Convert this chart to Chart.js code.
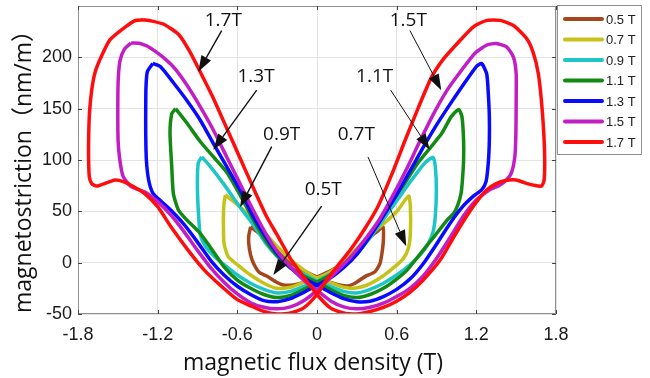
<!DOCTYPE html>
<html lang="en">
<head>
<meta charset="UTF-8">
<title>Magnetostriction butterfly loops</title>
<script src="https://cdn.jsdelivr.net/npm/chart.js"></script>
<style>
  html, body { margin: 0; padding: 0; background: #fff; }
  #wrap { width: 650px; height: 378px; }
</style>
</head>
<body>
<div id="wrap"><canvas id="chart" width="650" height="378"></canvas></div>
<script>
// axis ticks
const xTicks = [-1.8, -1.2, -0.6, 0, 0.6, 1.2, 1.8];
const xTickLabels = ['-1.8', '-1.2', '-0.6', '0', '0.6', '1.2', '1.8'];
const yTicks = [-50, 0, 50, 100, 150, 200];

const seriesNames = ['0.5 T', '0.7 T', '0.9 T', '1.1 T', '1.3 T', '1.5 T', '1.7 T'];

// each loop: B (T) and magnetostriction (nm/m), in drawing order
const b05 = [-0.5, -0.45, -0.4, -0.33, -0.23, -0.13, 0,
  0.12, 0.223, 0.286, 0.361, 0.437, 0.474, 0.49, 0.5, 0.497,
  0.45, 0.4, 0.33, 0.23, 0.13, 0,
  -0.12, -0.18, -0.254, -0.304, -0.379, -0.43, -0.46, -0.49, -0.51, -0.515, -0.5];
const l05 = [35, 30, 25, 15, 3, -6, -14,
  -20, -22.7, -20, -13.6, -8.8, -1, 10, 22, 35,
  30, 25, 15, 3, -6, -14,
  -20, -21.7, -21.7, -19, -13, -10, -5, 3, 14, 25, 35];

const b07 = [-0.69, -0.58, -0.454, -0.33, -0.2, -0.1, 0,
  0.073, 0.173, 0.274, 0.374, 0.474, 0.575, 0.65, 0.688, 0.703, 0.703, 0.69,
  0.61, 0.535, 0.424, 0.324, 0.223, 0.123, 0,
  -0.1, -0.2, -0.3, -0.4, -0.5, -0.58, -0.668, -0.7, -0.705, -0.7, -0.69];
const l07 = [66, 54.5, 38, 20, 3, -7, -15,
  -18, -23, -25, -22, -15, -5, 4, 14, 28, 54.5, 65,
  51.3, 41.5, 30, 17, 4, -7, -15,
  -19, -24, -25, -20, -12, -4, 5.8, 18.8, 44.8, 58, 66];

const b09 = [-0.868, -0.806, -0.705, -0.585, -0.48, -0.38, -0.3, -0.2, -0.1, 0,
  0.1, 0.2, 0.3, 0.4, 0.5, 0.6, 0.7, 0.78, 0.836, 0.874, 0.891, 0.899, 0.891, 0.874,
  0.811, 0.71, 0.61, 0.51, 0.41, 0.31, 0.2, 0.1, 0,
  -0.1, -0.2, -0.3, -0.4, -0.5, -0.6, -0.7, -0.78, -0.84, -0.88, -0.894, -0.901, -0.894, -0.868];
const l09 = [103, 94, 77, 55, 37, 18, 6, -5, -11, -18,
  -23, -28, -29.5, -26, -20, -12, -2, 8, 18, 30, 45, 71, 93.5, 102.6,
  97, 80, 62, 44, 26, 10, -4, -11, -18,
  -23, -28, -29.5, -26, -20, -12, -2, 7, 16, 28, 51, 77, 97, 103];

const b11 = [-1.065, -0.98, -0.88, -0.78, -0.68, -0.58, -0.48, -0.38, -0.3, -0.2, -0.1, 0,
  0.1, 0.2, 0.3, 0.4, 0.5, 0.6, 0.68, 0.78, 0.88, 0.98, 1.03, 1.06, 1.085, 1.095, 1.104, 1.104, 1.092, 1.067,
  1.01, 0.94, 0.86, 0.76, 0.66, 0.56, 0.46, 0.36, 0.3, 0.2, 0.1, 0,
  -0.1, -0.2, -0.3, -0.4, -0.5, -0.6, -0.7, -0.806, -0.88, -0.98, -1.044, -1.082, -1.094, -1.107, -1.094, -1.065];
const l11 = [150, 136, 118, 103, 88, 66, 42, 20, 7, -5, -13, -19,
  -26, -32, -34, -31, -25, -16, -7, 9, 25, 41.5, 48, 56, 67.5, 80, 100, 119, 142, 149.3,
  142, 126, 113, 97, 77, 58, 38, 20, 8, -4, -12, -19,
  -26, -32, -34, -31, -25, -17, -4, 15.6, 28.6, 41.5, 51.3, 67.5, 93.5, 126, 145, 150];

const b13 = [-1.237, -1.18, -1.08, -0.98, -0.88, -0.78, -0.68, -0.58, -0.48, -0.38, -0.3, -0.2, -0.1, 0,
  0.1, 0.2, 0.3, 0.4, 0.5, 0.6, 0.7, 0.8, 0.9, 1.0, 1.1, 1.18, 1.24, 1.273, 1.29, 1.298, 1.298, 1.29, 1.278, 1.24,
  1.2, 1.09, 0.99, 0.89, 0.79, 0.69, 0.59, 0.48, 0.38, 0.3, 0.2, 0.1, 0,
  -0.1, -0.2, -0.3, -0.4, -0.5, -0.6, -0.7, -0.8, -0.9, -1.0, -1.1, -1.17, -1.235, -1.268, -1.285, -1.29, -1.29, -1.288, -1.278, -1.237];
const l13 = [194, 191, 175, 158, 139, 116, 93.5, 70.8, 45, 24, 9, -5, -15, -22,
  -29, -35, -38, -37.5, -33, -26, -16, -1, 18, 38, 55, 65, 71, 79, 97, 119, 142, 165, 184, 194,
  191, 171, 152, 132, 110, 87, 64, 41.5, 22, 8, -5, -15, -22,
  -29, -35, -38, -37, -31, -23, -12, 2, 20, 37, 51, 59.4, 67.5, 80.5, 100, 126, 149, 171, 186, 194];

const b15 = [-1.4, -1.34, -1.28, -1.22, -1.14, -1.07, -0.98, -0.88, -0.78, -0.68, -0.58, -0.48, -0.38, -0.3, -0.2, -0.1, 0,
  0.1, 0.2, 0.3, 0.4, 0.5, 0.6, 0.7, 0.8, 0.9, 1.0, 1.1, 1.2, 1.3, 1.37, 1.43, 1.466, 1.49, 1.498, 1.5, 1.5, 1.48, 1.43, 1.35,
  1.28, 1.19, 1.08, 0.98, 0.87, 0.77, 0.67, 0.57, 0.47, 0.37, 0.25, 0.12, 0,
  -0.1, -0.2, -0.3, -0.4, -0.5, -0.6, -0.7, -0.8, -0.9, -1.0, -1.1, -1.2, -1.3, -1.4, -1.46, -1.485, -1.498, -1.5, -1.496, -1.483, -1.45, -1.4];
const l15 = [214, 213.8, 211, 206, 198, 189, 173, 152, 129, 103, 77, 51, 27, 11, -4, -17, -27,
  -37, -43, -45, -43.5, -39.5, -33, -25, -13, 4, 24, 45, 61, 71, 75, 81, 88, 103, 126, 158, 184, 200, 210, 213.5,
  212, 204, 186, 168, 143, 117, 90, 65, 42, 24, 5, -12, -27,
  -37, -43, -45, -43.5, -39, -30.5, -19, -5, 12, 30, 46.4, 59.4, 69, 74, 84, 100, 119, 158, 181, 197, 208, 214];

const b17 = [-1.31, -1.25, -1.15, -1.04, -0.96, -0.88, -0.78, -0.68, -0.58, -0.48, -0.38, -0.3, -0.2, -0.1, 0,
  0.1, 0.2, 0.3, 0.4, 0.5, 0.6, 0.7, 0.8, 0.93, 1.03, 1.13, 1.2, 1.28, 1.35, 1.42, 1.5, 1.56, 1.63, 1.69, 1.71, 1.715, 1.708, 1.69, 1.667, 1.63, 1.58, 1.48, 1.38, 1.28,
  1.18, 1.06, 0.95, 0.86, 0.76, 0.66, 0.56, 0.46, 0.36, 0.26, 0.15, 0.07, 0,
  -0.1, -0.2, -0.3, -0.4, -0.5, -0.6, -0.72, -0.85, -0.97, -1.1, -1.2, -1.3, -1.38, -1.46, -1.52, -1.58, -1.66, -1.697, -1.715, -1.72, -1.72, -1.714, -1.697, -1.67, -1.62, -1.56, -1.46, -1.37, -1.31];
const l17 = [236.5, 235.5, 232, 222, 206, 186, 160, 131, 102, 73, 45, 27, 4, -14, -31,
  -44, -49, -50, -47.5, -43.5, -37.5, -29, -17, 3, 25, 46, 59, 71, 77, 80, 80.5, 78, 75.5, 74.5, 80, 100, 126, 158, 184, 204, 218, 231, 236, 236,
  230, 214, 198, 180, 150, 118, 85, 55, 33, 14, -4, -17, -31,
  -44, -49, -50, -47.5, -42, -36, -23, -7, 12, 35, 54.5, 67.5, 74, 79, 80.5, 78, 74.6, 77, 84, 100, 119, 145, 168, 186, 202, 217, 228, 235.8, 236.5];

const loopB = [b05, b07, b09, b11, b13, b15, b17];
const loopL = [l05, l07, l09, l11, l13, l15, l17];
const colors = ['#a5461c', '#c5c21a', '#1cc6c6', '#138a13', '#0a0aff', '#c21ec6', '#ff0d0d'];

// callouts: label position and arrow, in data coordinates
const notes = [
  { text: '1.7T', at: [-0.706, 236], from: [-0.718, 226], to: [-0.894, 186], w: 1.4 },
  { text: '1.3T', at: [-0.459, 181], from: [-0.454, 168], to: [-0.781, 110], w: 1.4 },
  { text: '0.9T', at: [-0.266, 125], from: [-0.341, 113], to: [-0.58, 54], w: 1.4 },
  { text: '0.5T', at: [0.047, 71], from: [0.035, 55], to: [-0.329, -12], w: 1.4 },
  { text: '1.5T', at: [0.688, 236], from: [0.7, 226], to: [0.936, 168], w: 1 },
  { text: '1.1T', at: [0.434, 181], from: [0.555, 168], to: [0.849, 110], w: 1 },
  { text: '0.7T', at: [0.296, 125], from: [0.384, 103], to: [0.672, 16], w: 1 }
];

const datasets = seriesNames.map((name, i) => ({
  label: name,
  data: loopB[i].map((b, k) => ({ x: b, y: loopL[i][k] })),
  showLine: true,
  borderColor: colors[i],
  backgroundColor: colors[i],
  borderWidth: 3.5,
  pointRadius: 0,
  tension: 0.2,
  fill: false,
  order: seriesNames.length - i
}));

function arrow(ctx, x1, y1, x2, y2, w) {
  const ang = Math.atan2(y2 - y1, x2 - x1);
  const len = 16, half = 5.5;
  const bx = x2 - len * Math.cos(ang), by = y2 - len * Math.sin(ang);
  ctx.lineWidth = w;
  ctx.beginPath();
  ctx.moveTo(x1, y1);
  ctx.lineTo(bx, by);
  ctx.stroke();
  ctx.beginPath();
  ctx.moveTo(x2, y2);
  ctx.lineTo(bx + half * Math.sin(ang), by - half * Math.cos(ang));
  ctx.lineTo(bx - half * Math.sin(ang), by + half * Math.cos(ang));
  ctx.closePath();
  ctx.fill();
}

const decor = {
  id: 'decor',
  afterDatasetsDraw(chart) {
    const { ctx, chartArea: a } = chart;
    const sx = chart.scales.x, sy = chart.scales.y;
    ctx.save();

    // plot frame and inward ticks
    ctx.strokeStyle = '#8f8f8f';
    ctx.lineWidth = 1;
    ctx.strokeRect(a.left + 0.5, a.top + 0.5, a.right - a.left - 1, a.bottom - a.top - 1);
    ctx.strokeStyle = '#444';
    ctx.beginPath();
    xTicks.forEach(v => {
      const px = Math.round(sx.getPixelForValue(v)) + 0.5;
      ctx.moveTo(px, a.bottom); ctx.lineTo(px, a.bottom - 4);
      ctx.moveTo(px, a.top); ctx.lineTo(px, a.top + 4);
    });
    yTicks.forEach(v => {
      const py = Math.round(sy.getPixelForValue(v)) + 0.5;
      ctx.moveTo(a.left, py); ctx.lineTo(a.left + 4, py);
      ctx.moveTo(a.right, py); ctx.lineTo(a.right - 4, py);
    });
    ctx.stroke();

    // callouts
    ctx.fillStyle = '#111';
    ctx.strokeStyle = '#111';
    ctx.font = '19px "Open Sans", sans-serif';
    ctx.textAlign = 'center';
    ctx.textBaseline = 'middle';
    notes.forEach(n => {
      ctx.fillText(n.text, sx.getPixelForValue(n.at[0]), sy.getPixelForValue(n.at[1]));
      arrow(ctx, sx.getPixelForValue(n.from[0]), sy.getPixelForValue(n.from[1]),
        sx.getPixelForValue(n.to[0]), sy.getPixelForValue(n.to[1]), n.w);
    });

    // legend box
    const lx = a.right + 1, ly = a.top - 1, lw = 85, lh = 150;
    ctx.fillStyle = '#fff';
    ctx.fillRect(lx, ly, lw, lh);
    ctx.strokeStyle = '#8f8f8f';
    ctx.lineWidth = 1;
    ctx.strokeRect(lx + 0.5, ly + 0.5, lw - 1, lh - 1);
    ctx.font = '13px "Liberation Sans", Arial, sans-serif';
    ctx.textAlign = 'left';
    ctx.lineCap = 'round';
    seriesNames.forEach((name, i) => {
      const ry = ly + 14 + i * 20.5;
      ctx.strokeStyle = colors[i];
      ctx.lineWidth = 4;
      ctx.beginPath();
      ctx.moveTo(lx + 8, ry); ctx.lineTo(lx + 45, ry);
      ctx.stroke();
      ctx.fillStyle = '#222';
      ctx.fillText(name, lx + 49, ry + 1);
    });

    // axis titles
    ctx.fillStyle = '#111';
    ctx.font = '23px "Open Sans", "Noto Sans CJK SC", sans-serif';
    ctx.textAlign = 'center';
    ctx.textBaseline = 'alphabetic';
    ctx.fillText('magnetic flux density (T)', (a.left + a.right) / 2 - 4, 370);
    ctx.translate(31, 166);
    ctx.rotate(-Math.PI / 2);
    ctx.fillText('magnetostriction\uFF08nm/m\uFF09', 0, 0);
    ctx.restore();
  }
};

new Chart(document.getElementById('chart'), {
  type: 'scatter',
  data: { datasets },
  options: {
    responsive: false,
    animation: false,
    layout: { padding: { top: 6, right: 94, left: 0, bottom: 0 } },
    plugins: { legend: { display: false }, tooltip: { enabled: false } },
    scales: {
      x: {
        type: 'linear', min: -1.8, max: 1.8,
        afterBuildTicks: s => { s.ticks = xTicks.map(v => ({ value: v })); },
        afterFit: s => { s.height = 64; s.paddingLeft = 0; s.paddingRight = 0; },
        ticks: {
          callback: (v, i) => xTickLabels[i],
          font: { family: '"Liberation Sans", Arial, sans-serif', size: 18 },
          color: '#1a1a1a', padding: 10, maxRotation: 0, autoSkip: false
        },
        grid: { color: '#e3e3e3', drawTicks: false },
        border: { display: false }
      },
      y: {
        type: 'linear', min: -50, max: 250,
        afterBuildTicks: s => { s.ticks = yTicks.map(v => ({ value: v })); },
        afterFit: s => { s.width = 78; s.paddingTop = 0; s.paddingBottom = 0; },
        ticks: {
          callback: v => String(v),
          font: { family: '"Liberation Sans", Arial, sans-serif', size: 18 },
          color: '#1a1a1a', padding: 6, autoSkip: false
        },
        grid: { color: '#e3e3e3', drawTicks: false },
        border: { display: false }
      }
    }
  },
  plugins: [decor]
});
</script>
</body>
</html>
